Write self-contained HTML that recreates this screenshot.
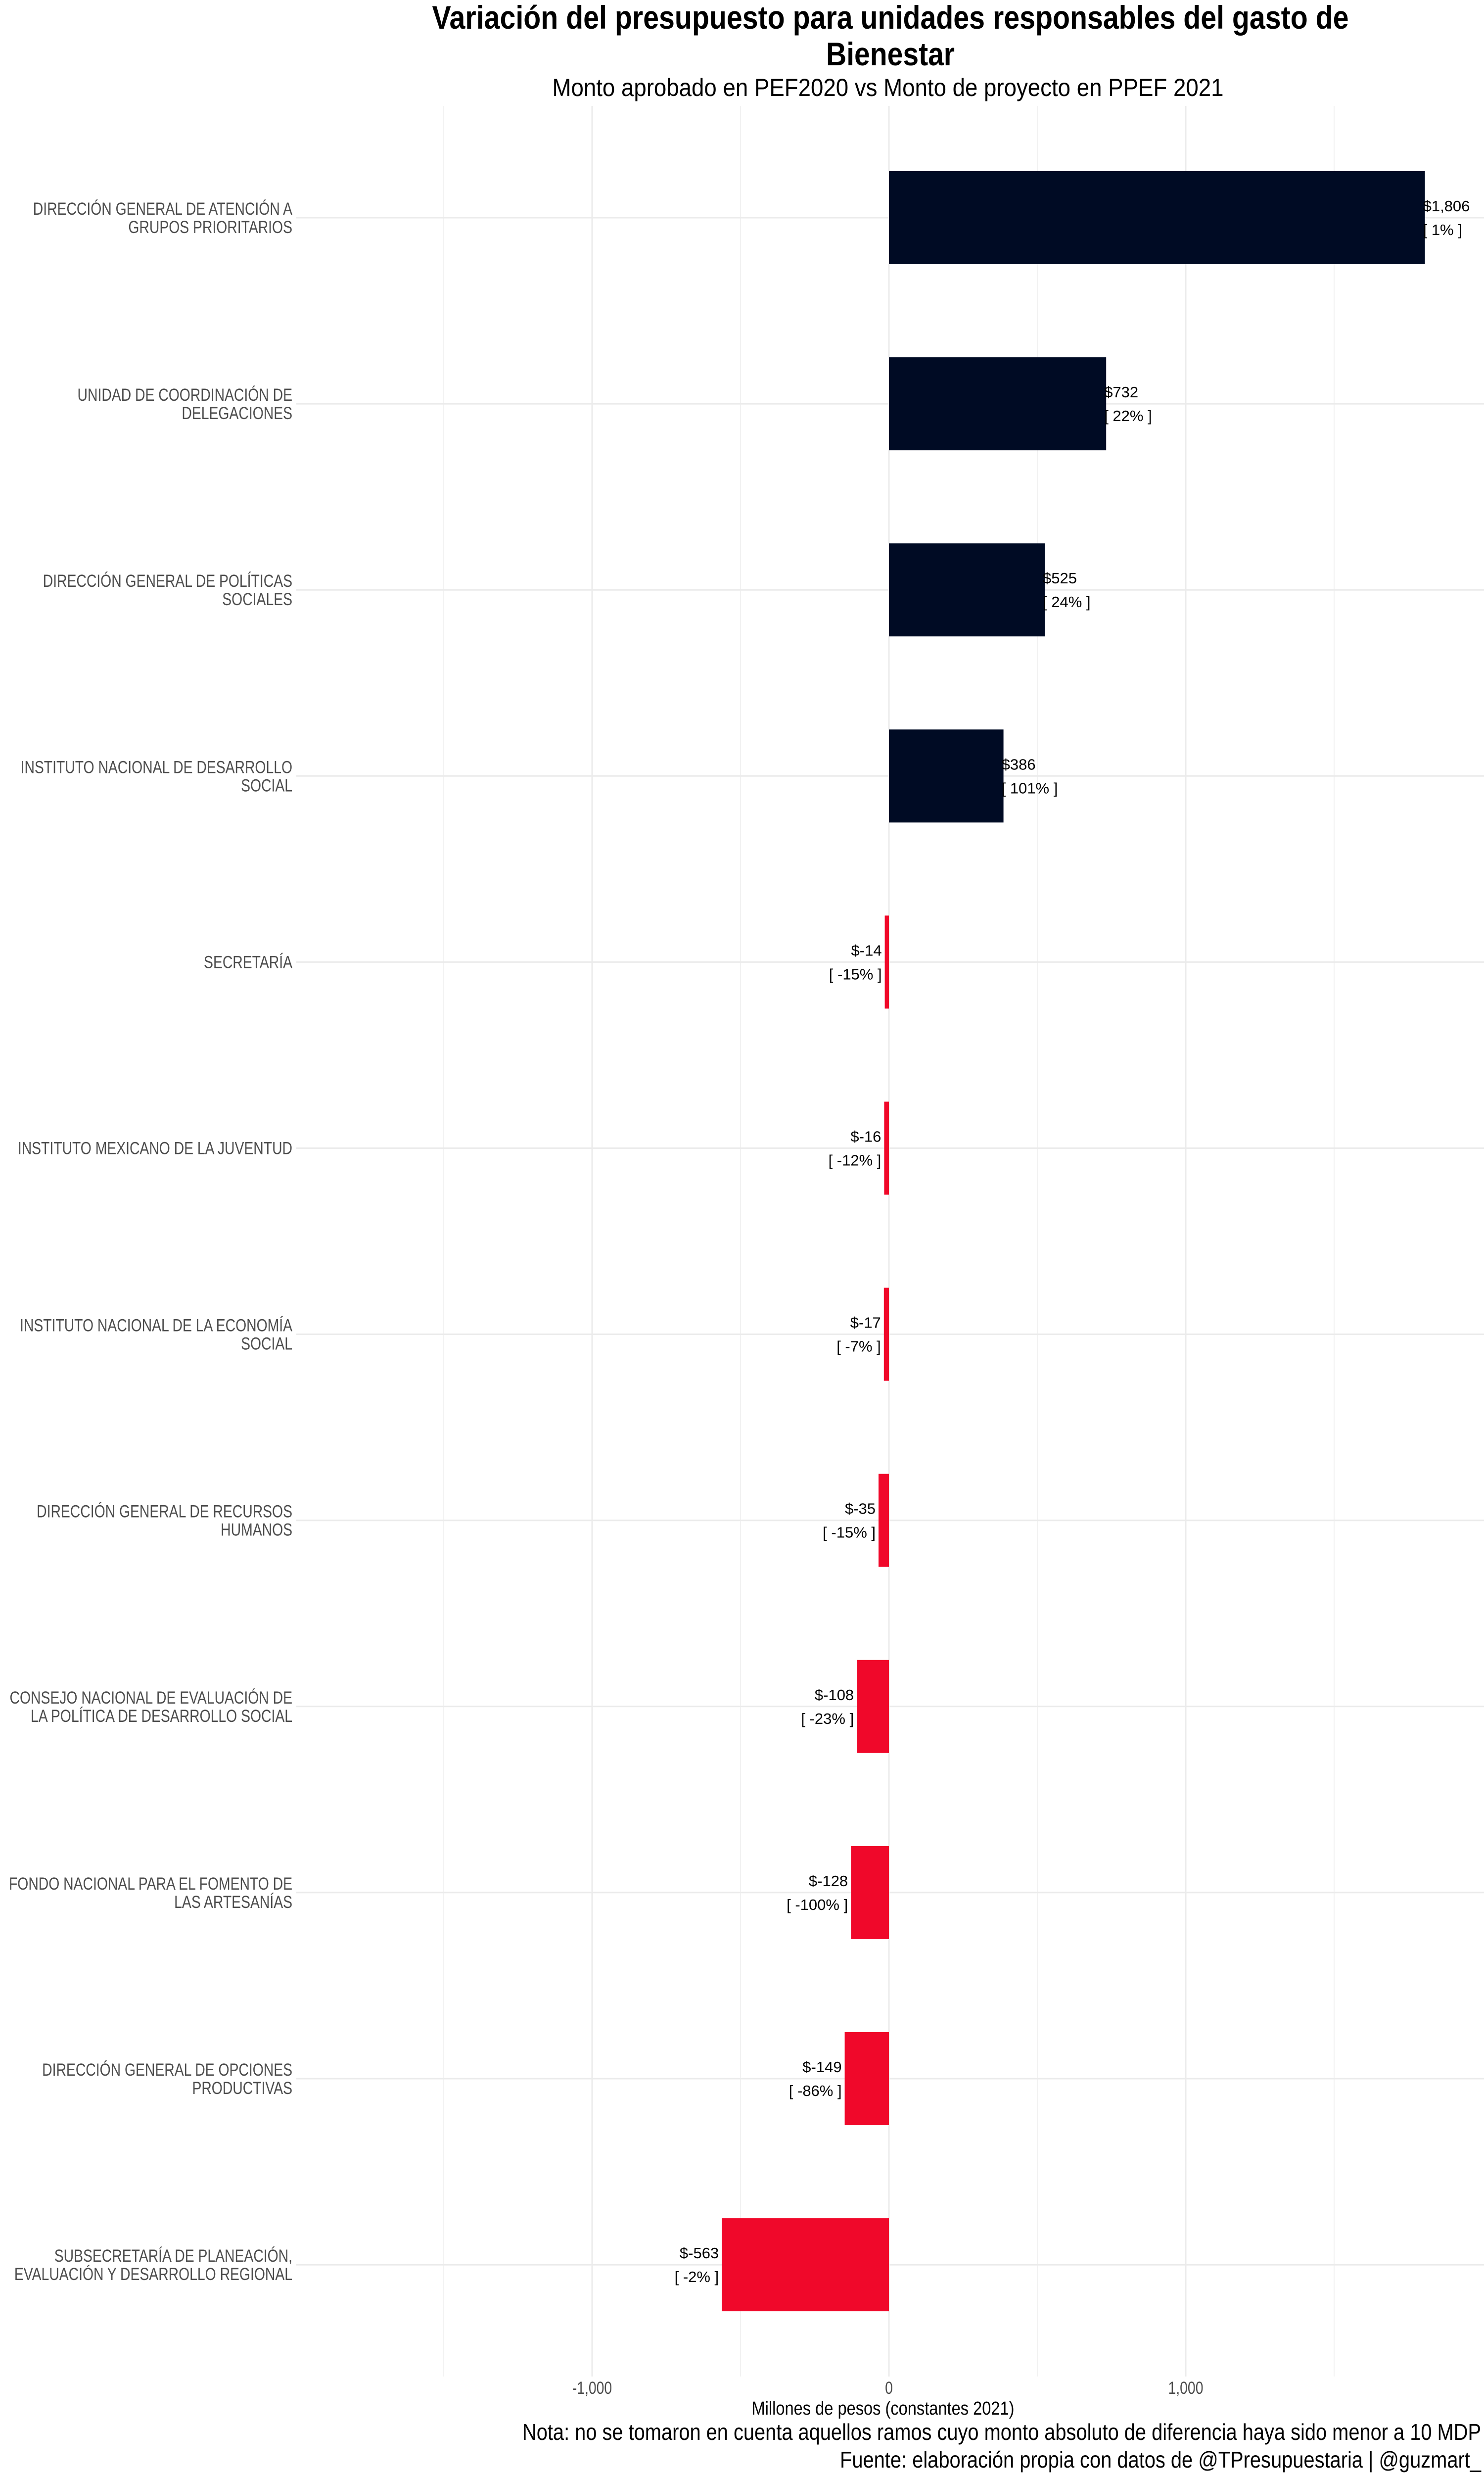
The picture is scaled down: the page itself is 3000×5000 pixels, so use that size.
<!DOCTYPE html>
<html><head><meta charset="utf-8"><style>
html,body{margin:0;padding:0;background:#fff;}
svg{display:block;font-family:"Liberation Sans",Arial,sans-serif;}
</style></head><body>
<svg id="chart" width="3000" height="5000" viewBox="0 0 3000 5000" xmlns="http://www.w3.org/2000/svg">
<rect width="3000" height="5000" fill="#fff"/>
<text x="1800" y="58" text-anchor="middle" font-size="66" font-weight="bold" textLength="1853" lengthAdjust="spacingAndGlyphs">Variación del presupuesto para unidades responsables del gasto de</text>
<text x="1800" y="132" text-anchor="middle" font-size="66" font-weight="bold" textLength="260" lengthAdjust="spacingAndGlyphs">Bienestar</text>
<text x="1795" y="194" text-anchor="middle" font-size="50" textLength="1357" lengthAdjust="spacingAndGlyphs">Monto aprobado en PEF2020 vs Monto de proyecto en PPEF 2021</text>
<g id="grid"></g>
<g id="bars"></g>
<g id="labels"></g>
<g id="ticks"></g>
<text x="1785" y="4880" text-anchor="middle" font-size="38" fill="#000" textLength="531" lengthAdjust="spacingAndGlyphs">Millones de pesos (constantes 2021)</text>
<text x="2994" y="4931" text-anchor="end" font-size="46" textLength="1938" lengthAdjust="spacingAndGlyphs">Nota: no se tomaron en cuenta aquellos ramos cuyo monto absoluto de diferencia haya sido menor a 10 MDP</text>
<text x="2994" y="4987" text-anchor="end" font-size="46" textLength="1296" lengthAdjust="spacingAndGlyphs">Fuente: elaboración propia con datos de @TPresupuestaria | @guzmart_</text>
</svg>
<script>
const categories = [
 ["DIRECCIÓN GENERAL DE ATENCIÓN A","GRUPOS PRIORITARIOS"],
 ["UNIDAD DE COORDINACIÓN DE","DELEGACIONES"],
 ["DIRECCIÓN GENERAL DE POLÍTICAS","SOCIALES"],
 ["INSTITUTO NACIONAL DE DESARROLLO","SOCIAL"],
 ["SECRETARÍA"],
 ["INSTITUTO MEXICANO DE LA JUVENTUD"],
 ["INSTITUTO NACIONAL DE LA ECONOMÍA","SOCIAL"],
 ["DIRECCIÓN GENERAL DE RECURSOS","HUMANOS"],
 ["CONSEJO NACIONAL DE EVALUACIÓN DE","LA POLÍTICA DE DESARROLLO SOCIAL"],
 ["FONDO NACIONAL PARA EL FOMENTO DE","LAS ARTESANÍAS"],
 ["DIRECCIÓN GENERAL DE OPCIONES","PRODUCTIVAS"],
 ["SUBSECRETARÍA DE PLANEACIÓN,","EVALUACIÓN Y DESARROLLO REGIONAL"]
];
const values = [1806, 732, 525, 386, -14, -16, -17, -35, -108, -128, -149, -563];
const percents = [1, 22, 24, 101, -15, -12, -7, -15, -23, -100, -86, -2];
const majorTicks = [-1000, 0, 1000];
const minorTicks = [-1500, -500, 500, 1500];
const tickLabels = ["-1,000", "0", "1,000"];

const NS = "http://www.w3.org/2000/svg";
const panelL = 599, panelR = 3000, panelT = 214, panelB = 4803;
const x0 = 1797, pxPerUnit = 0.6;
function xScale(v){ return x0 + v * pxPerUnit; }
const rowTop = 440, rowStep = 376.1;
function yScale(i){ return rowTop + i * rowStep; }
const barH = 188;
function mk(tag, attrs, parent){ const e=document.createElementNS(NS,tag); for(const k in attrs) e.setAttribute(k,attrs[k]); parent.appendChild(e); return e; }
function fmt(v){ const s=Math.abs(v).toLocaleString('en-US'); return "$" + (v<0?"-":"") + s; }

const grid=document.getElementById('grid');
minorTicks.forEach(t=>{
  const l=mk('line',{x1:xScale(t),x2:xScale(t),y1:panelT,y2:panelB,stroke:'#f2f2f2','stroke-width':2},grid);
  
  
});
majorTicks.forEach(t=>{
  const l=mk('line',{x1:xScale(t),x2:xScale(t),y1:panelT,y2:panelB,stroke:'#ebebeb','stroke-width':3},grid);
  
  
});
categories.forEach((c,i)=>{
  const l=mk('line',{x1:panelL,x2:panelR,y1:yScale(i),y2:yScale(i),stroke:'#ebebeb','stroke-width':3},grid);
  
  
});

const bars=document.getElementById('bars');
values.forEach((v,i)=>{
  const cy=yScale(i);
  const xa=Math.min(xScale(0),xScale(v)), w=Math.abs(xScale(v)-xScale(0));
  const r=mk('rect',{x:xa,y:cy-barH/2,width:Math.max(w,1),height:barH,fill:v>=0?'#000b24':'#f0082a'},bars);
  
  
  const anchor=v>=0?'start':'end';
  const tx=xScale(v)+(v>=0?-4:-6);
  const t1=mk('text',{x:tx,y:cy-13,'text-anchor':anchor,'font-size':31,fill:'#000'},bars);
  t1.textContent=fmt(v);
  
  
  const t2=mk('text',{x:tx,y:cy+35,'text-anchor':anchor,'font-size':31,fill:'#000'},bars);
  t2.textContent="[ "+percents[i]+"% ]";
  
  
});

const labels=document.getElementById('labels');
categories.forEach((lines,i)=>{
  const cy=yScale(i);
  const g=mk('g',{transform:'translate(591,0) scale(0.81,1)'},labels);
  
  
  const offs = lines.length===2 ? [-6,31] : [12];
  lines.forEach((s,j)=>{
    const t=mk('text',{x:0,y:cy+offs[j],'text-anchor':'end','font-size':35,fill:'#4d4d4d'},g);
    t.textContent=s;
    
    
  });
});

const ticks=document.getElementById('ticks');
majorTicks.forEach((t,i)=>{
  const g=mk('g',{transform:'translate('+xScale(t)+',0) scale(0.81,1)'},ticks);
  
  
  const tx=mk('text',{x:0,y:4838,'text-anchor':'middle','font-size':35,fill:'#4d4d4d'},g);
  tx.textContent=tickLabels[i];
});
</script>
</body></html>
